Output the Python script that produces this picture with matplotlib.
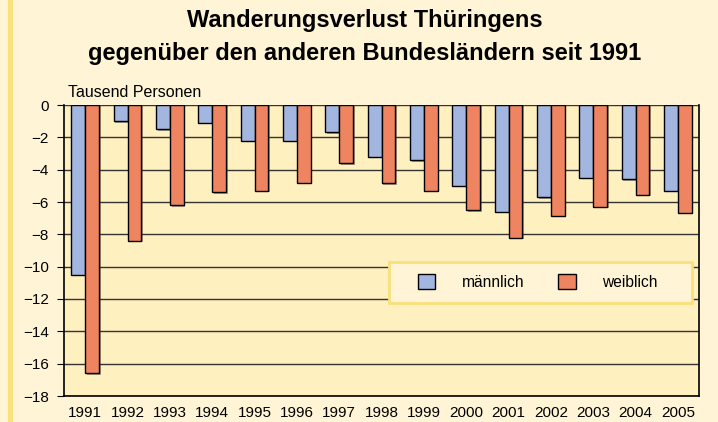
import numpy as np
import matplotlib.pyplot as plt
from matplotlib.patches import Rectangle

plt.rcParams['font.family'] = ['Liberation Sans', 'DejaVu Sans']

jahre = ['1991', '1992', '1993', '1994', '1995', '1996', '1997', '1998',
         '1999', '2000', '2001', '2002', '2003', '2004', '2005']
maennlich = [-10.5, -1.0, -1.5, -1.1, -2.2, -2.2, -1.7, -3.2,
             -3.4, -5.0, -6.6, -5.7, -4.5, -4.6, -5.3]
weiblich = [-16.6, -8.4, -6.2, -5.4, -5.3, -4.8, -3.6, -4.85,
            -5.3, -6.5, -8.2, -6.85, -6.3, -5.55, -6.65]

blau = '#A3B6DF'
orange = '#EF8460'
hintergrund = '#FFF5D6'
flaeche = '#FFF0C0'
gelb = '#F9E07A'

fig = plt.figure(figsize=(7.18, 4.22), dpi=100, facecolor=hintergrund)
fig.patches.append(Rectangle((8 / 718, 0), 5 / 718, 1, transform=fig.transFigure,
                             facecolor=gelb, edgecolor='none', zorder=0))

ax = fig.add_axes([64 / 718, 1 - 396 / 422, 635 / 718, 291 / 422])
ax.set_facecolor(flaeche)

x = np.arange(len(jahre))
w = 0.33
# leichter Schatten
ax.bar(x - w / 2 + 0.04, np.array(maennlich) - 0.1, w, color='#444444', alpha=0.5, zorder=2)
ax.bar(x + w / 2 + 0.04, np.array(weiblich) - 0.1, w, color='#444444', alpha=0.5, zorder=2)
ax.bar(x - w / 2, maennlich, w, color=blau, edgecolor='black', linewidth=1, zorder=3,
       label='männlich')
ax.bar(x + w / 2, weiblich, w, color=orange, edgecolor='black', linewidth=1, zorder=3,
       label='weiblich')

ax.set_xlim(-0.5, len(jahre) - 0.5)
ax.set_ylim(-18, 0)
ax.set_yticks(np.arange(-18, 1, 2))
ax.set_xticks(x)
ax.set_xticklabels(jahre)
ax.tick_params(axis='x', length=0, labelsize=11, pad=7)
ax.tick_params(axis='y', length=5, direction='out', labelsize=11, pad=6)
ax.yaxis.grid(True, color='#333333', linewidth=1)
ax.set_axisbelow(True)
for s in ax.spines.values():
    s.set_color('black')
    s.set_linewidth(1.2)
ax.spines['top'].set_visible(False)
ax.axhline(0, color='#333333', linewidth=1.2, zorder=1)

# Legendenrahmen
ax.add_patch(Rectangle((389 / 718, 1 - 303 / 422), 303 / 718, 41 / 422,
                       transform=fig.transFigure, facecolor=hintergrund,
                       edgecolor=gelb, linewidth=2, zorder=4, clip_on=False))
leg = ax.legend(loc='upper left', bbox_to_anchor=(418 / 718, 1 - 274 / 422),
                bbox_transform=fig.transFigure, ncol=2, frameon=False,
                fontsize=11.2, handlelength=1.1, handleheight=1.1,
                handletextpad=1.7, columnspacing=2.2, borderpad=0, borderaxespad=0)
leg.set_zorder(5)

fig.text(0.508, 1 - 27 / 422, 'Wanderungsverlust Thüringens', ha='center', va='baseline',
         fontsize=17, fontweight='bold')
fig.text(0.508, 1 - 60 / 422, 'gegenüber den anderen Bundesländern seit 1991',
         ha='center', va='baseline', fontsize=17, fontweight='bold')
fig.text(68 / 718, 1 - 97 / 422, 'Tausend Personen', ha='left', va='baseline', fontsize=11.5)

fig.savefig('out.png', dpi=100, facecolor=hintergrund)
